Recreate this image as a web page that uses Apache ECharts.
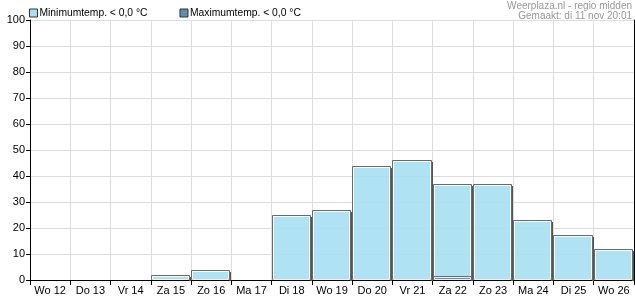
<!DOCTYPE html>
<html><head><meta charset="utf-8">
<script src="https://cdn.jsdelivr.net/npm/echarts@6/dist/echarts.min.js"></script>
<style>html,body{margin:0;padding:0;background:#fff}#c{width:635px;height:300px}</style>
</head><body><div id="c"></div>
<script>
var categories = ['Wo 12','Do 13','Vr 14','Za 15','Zo 16','Ma 17','Di 18','Wo 19','Do 20','Vr 21','Za 22','Zo 23','Ma 24','Di 25','Wo 26'];
var minTemp = [0,0,0,2,4,0,25,27,44,46,37,37,23,17.5,12];
var maxTemp = [0,0,0,0,0,0,0,0,0,0,1.5,0,0,0,0];
var yTicks = [0,10,20,30,40,50,60,70,80,90,100];

var chart = echarts.init(document.getElementById('c'));
var font = 'Liberation Sans, Arial, sans-serif';

function makeRender(fill){
  return function(params, api){
    var v = api.value(1);
    if (!v) return null;
    var idx = api.value(0);
    var top = api.coord([idx, v]);
    var bot = api.coord([idx, 0]);
    var w = api.size([1, 0])[0];
    var x0 = Math.round(top[0] - w/2) + 0.5;
    var x1 = Math.round(top[0] + w/2) - 1.5;
    var y0 = Math.round(top[1]) + 0.5;
    var y1 = Math.round(bot[1]) - 0.5;
    var h = y1 - y0;
    return {type: 'group', children: [
      {type: 'rect', shape: {x: x1 - 0.5, y: y0 + 1.5, width: 2, height: h}, style: {fill: '#555'}},
      {type: 'rect', shape: {x: x0, y: y0, width: x1 - x0, height: h}, style: {fill: fill, stroke: '#6a6a6a', lineWidth: 1}},
      {type: 'rect', shape: {x: x0 + 1, y: y0 + 1, width: x1 - x0 - 2, height: h - 1}, style: {fill: null, stroke: '#fff', lineWidth: 1, opacity: 0.9}}
    ]};
  };
}

chart.setOption({
  animation: false,
  grid: {left: 30, right: 1, top: 20, bottom: 20, show: false},
  legend: {
    left: 29, top: 8, padding: 0, itemWidth: 8, itemHeight: 8, itemGap: 32,
    textStyle: {fontFamily: font, fontSize: 10.3, color: '#000', padding: [0,0,0,-3]},
    data: [{name: 'Minimumtemp. < 0,0 °C', icon: 'rect', itemStyle: {color: '#a8e0f2', borderColor: '#333', borderWidth: 1}},
           {name: 'Maximumtemp. < 0,0 °C', icon: 'rect', itemStyle: {color: '#5e8fae', borderColor: '#333', borderWidth: 1}}]
  },
  graphic: [
    {type: 'text', right: 3, top: 1, style: {text: 'Weerplaza.nl - regio midden', fill: '#999', font: '10px Liberation Sans, Arial, sans-serif', textAlign: 'right'}},
    {type: 'text', right: 3, top: 11, style: {text: 'Gemaakt: di 11 nov 20:01', fill: '#999', font: '10px Liberation Sans, Arial, sans-serif', textAlign: 'right'}}
  ],
  xAxis: [{
    type: 'category', data: categories, boundaryGap: true,
    axisLine: {lineStyle: {color: '#000'}},
    axisTick: {show: true, length: 5, lineStyle: {color: '#000'}},
    axisLabel: {fontFamily: font, fontSize: 11, color: '#000', margin: 5, interval: 0},
    splitLine: {show: true, lineStyle: {color: '#ddd'}}
  }, {
    type: 'category', data: categories, position: 'top', boundaryGap: true,
    axisLine: {lineStyle: {color: '#000'}}, axisTick: {show: false}, axisLabel: {show: false}, splitLine: {show: false}
  }],
  yAxis: [{
    type: 'value', min: 0, max: 100, interval: 10,
    axisLine: {show: true, lineStyle: {color: '#000'}},
    axisTick: {show: true, length: 4, lineStyle: {color: '#000'}},
    axisLabel: {fontFamily: font, fontSize: 11, color: '#000', margin: 5,
      formatter: function(v){ return yTicks.indexOf(v) >= 0 ? String(v) : ''; }},
    splitLine: {show: true, lineStyle: {color: '#ddd'}}
  }, {
    type: 'value', min: 0, max: 100, interval: 10, position: 'right',
    axisLine: {show: true, lineStyle: {color: '#000'}}, axisTick: {show: false}, axisLabel: {show: false}, splitLine: {show: false}
  }],
  series: [
    {name: 'Minimumtemp. < 0,0 °C', type: 'custom', renderItem: makeRender('rgba(166,224,243,0.9)'),
      itemStyle: {color: '#a8e0f2'}, encode: {x: 0, y: 1}, xAxisIndex: 0, yAxisIndex: 0,
      data: minTemp.map(function(v, i){ return [i, v]; })},
    {name: 'Maximumtemp. < 0,0 °C', type: 'custom', renderItem: makeRender('#5e8fae'),
      itemStyle: {color: '#5e8fae'}, encode: {x: 0, y: 1}, xAxisIndex: 0, yAxisIndex: 0,
      data: maxTemp.map(function(v, i){ return [i, v]; })}
  ]
});
</script></body></html>
